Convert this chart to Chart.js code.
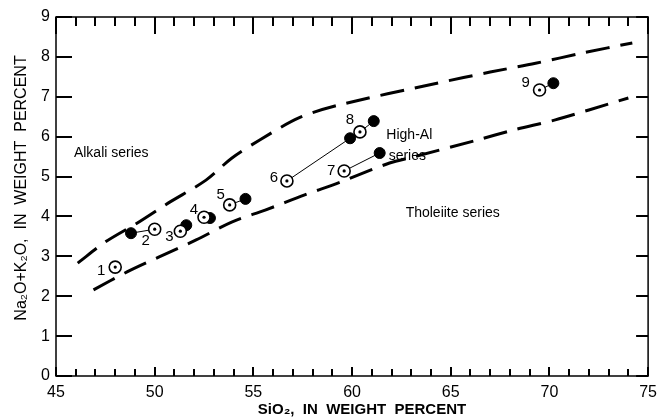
<!DOCTYPE html>
<html>
<head>
<meta charset="utf-8">
<script src="https://cdn.jsdelivr.net/npm/chart.js@4.4.1/dist/chart.umd.min.js"></script>
<style>
  html, body { margin: 0; padding: 0; background: #fff; }
  #wrap { width: 664px; height: 420px; }
</style>
</head>
<body>
<div id="wrap"><canvas id="chart" width="664" height="420"></canvas></div>
<script>
/* ---- data ---- */
const sampleIds   = ['1', '2', '3', '4', '5', '6', '7', '8', '9'];
const openSiO2    = [48.0, 50.0, 51.3, 52.5, 53.8, 56.7, 59.6, 60.4, 69.5];
const openAlk     = [2.73, 3.68, 3.63, 3.98, 4.29, 4.89, 5.14, 6.12, 7.17];
const filledSiO2  = [null, 48.8, 51.6, 52.8, 54.6, 59.9, 61.4, 61.1, 70.2];
const filledAlk   = [null, 3.58, 3.78, 3.96, 4.44, 5.96, 5.59, 6.39, 7.34];

const upperSiO2 = [46.1, 47.5, 49.1, 50.7, 52.6, 53.9, 55.3, 57.3, 59.3, 64.3, 67.0, 69.3, 71.7, 74.2];
const upperAlk  = [2.83, 3.36, 3.83, 4.34, 4.91, 5.46, 5.91, 6.47, 6.79, 7.34, 7.62, 7.84, 8.10, 8.35];
const lowerSiO2 = [46.9, 48.6, 50.2, 52.1, 53.9, 55.6, 57.6, 59.4, 61.9, 63.1, 66.3, 68.2, 70.3, 72.0, 74.0];
const lowerAlk  = [2.16, 2.61, 2.98, 3.41, 3.86, 4.16, 4.54, 4.86, 5.34, 5.49, 5.91, 6.17, 6.42, 6.67, 6.97];

const fieldNames = ['Alkali series', 'High-Al', 'series', 'Tholeiite series'];
const fieldSiO2  = [47.8, 62.9, 62.8, 65.1];
const fieldAlk   = [5.59, 6.04, 5.51, 4.09];

const xTickLabels = [45, 50, 55, 60, 65, 70, 75];
const yTickLabels = [0, 1, 2, 3, 4, 5, 6, 7, 8, 9];

/* label placement next to the open circles (pixels) */
const labelOffsets = [[-14, 4], [-9, 12], [-11, 6], [-10, -7], [-9, -10], [-13, -3], [-13, 0], [-10, -12], [-14, -7]];

const FONT = '"Liberation Sans", Arial, sans-serif';

function pts(xs, ys) {
  return xs.map((x, i) => ({ x: x, y: ys[i] })).filter(p => p.x !== null);
}

const pairLines = sampleIds.map((id, i) => {
  if (filledSiO2[i] === null) return null;
  return {
    data: [{ x: openSiO2[i], y: openAlk[i] }, { x: filledSiO2[i], y: filledAlk[i] }],
    showLine: true,
    borderColor: '#000',
    borderWidth: 1,
    pointRadius: 0,
  };
}).filter(d => d);

const frame = {
  id: 'frame',
  afterDraw(chart) {
    const ctx = chart.ctx;
    const a = chart.chartArea;
    const xs = chart.scales.x, ys = chart.scales.y;
    ctx.save();
    ctx.setLineDash([]);
    ctx.strokeStyle = '#000';
    ctx.fillStyle = '#000';
    ctx.lineWidth = 1.5;
    ctx.strokeRect(a.left, a.top, a.right - a.left, a.bottom - a.top);

    // inward ticks
    for (let v = 45; v <= 75; v++) {
      const px = Math.round(xs.getPixelForValue(v)) - 1;
      const major = v % 5 === 0;
      const hb = major ? 9 : 7;
      const ht = major ? 17 : 9;
      ctx.fillRect(px, a.bottom - hb, 2, hb);
      ctx.fillRect(px, a.top, 2, ht);
    }
    for (let v = 0; v <= 9; v++) {
      const py = Math.round(ys.getPixelForValue(v)) - 1;
      ctx.fillRect(a.left, py, 16, 2);
      ctx.fillRect(a.right - 12, py, 12, 2);
    }

    // sample numbers
    ctx.font = '15px ' + FONT;
    ctx.textAlign = 'center';
    ctx.textBaseline = 'middle';
    sampleIds.forEach((id, i) => {
      const px = xs.getPixelForValue(openSiO2[i]) + labelOffsets[i][0];
      const py = ys.getPixelForValue(openAlk[i]) + labelOffsets[i][1];
      ctx.fillText(id, px, py);
    });

    // field names
    ctx.font = '14px ' + FONT;
    fieldNames.forEach((t, i) => {
      ctx.fillText(t, xs.getPixelForValue(fieldSiO2[i]), ys.getPixelForValue(fieldAlk[i]));
    });

    // axis titles
    ctx.font = 'bold 15px ' + FONT;
    ctx.fillText('SiO\u2082,  IN  WEIGHT  PERCENT', 362, 410);
    ctx.translate(22, 188);
    ctx.rotate(-Math.PI / 2);
    ctx.font = '16px ' + FONT;
    ctx.fillText('Na\u2082O+K\u2082O,  IN  WEIGHT  PERCENT', 0, 0);
    ctx.restore();
  }
};

// first dataset is painted last (on top)
new Chart(document.getElementById('chart'), {
  type: 'scatter',
  data: {
    datasets: [
      {
        data: pts(openSiO2, openAlk),
        pointRadius: 1.6, pointBackgroundColor: '#000', pointBorderColor: '#000', pointBorderWidth: 0,
      },
      {
        data: pts(openSiO2, openAlk),
        pointRadius: 6, pointBackgroundColor: '#fff', pointBorderColor: '#000', pointBorderWidth: 1.6,
      },
      {
        data: pts(filledSiO2, filledAlk),
        pointRadius: 5.5, pointBackgroundColor: '#000', pointBorderColor: '#000', pointBorderWidth: 1,
      },
      ...pairLines,
      {
        data: pts(upperSiO2, upperAlk),
        showLine: true, tension: 0.3,
        borderColor: '#000', borderWidth: 3, borderDash: [24, 11],
        pointRadius: 0,
      },
      {
        data: pts(lowerSiO2, lowerAlk),
        showLine: true, tension: 0.3,
        borderColor: '#000', borderWidth: 3, borderDash: [24, 11],
        pointRadius: 0,
      },
    ],
  },
  options: {
    responsive: false,
    animation: false,
    layout: { padding: { top: 17, right: 11, left: 0, bottom: 0 } },
    plugins: { legend: { display: false }, tooltip: { enabled: false } },
    scales: {
      x: {
        type: 'linear', min: 45, max: 75,
        afterBuildTicks: (s) => { s.ticks = xTickLabels.map(v => ({ value: v })); },
        afterFit: (s) => { s.height = 44; },
        grid: { display: false, drawTicks: false },
        border: { display: false },
        ticks: { color: '#000', font: { family: FONT, size: 16 }, padding: 7, autoSkip: false, maxRotation: 0 },
      },
      y: {
        type: 'linear', min: 0, max: 9,
        afterBuildTicks: (s) => { s.ticks = yTickLabels.map(v => ({ value: v })); },
        afterFit: (s) => { s.width = 56; },
        grid: { display: false, drawTicks: false },
        border: { display: false },
        ticks: { color: '#000', font: { family: FONT, size: 16 }, padding: 6, autoSkip: false },
      },
    },
  },
  plugins: [frame],
});
</script>
</body>
</html>
